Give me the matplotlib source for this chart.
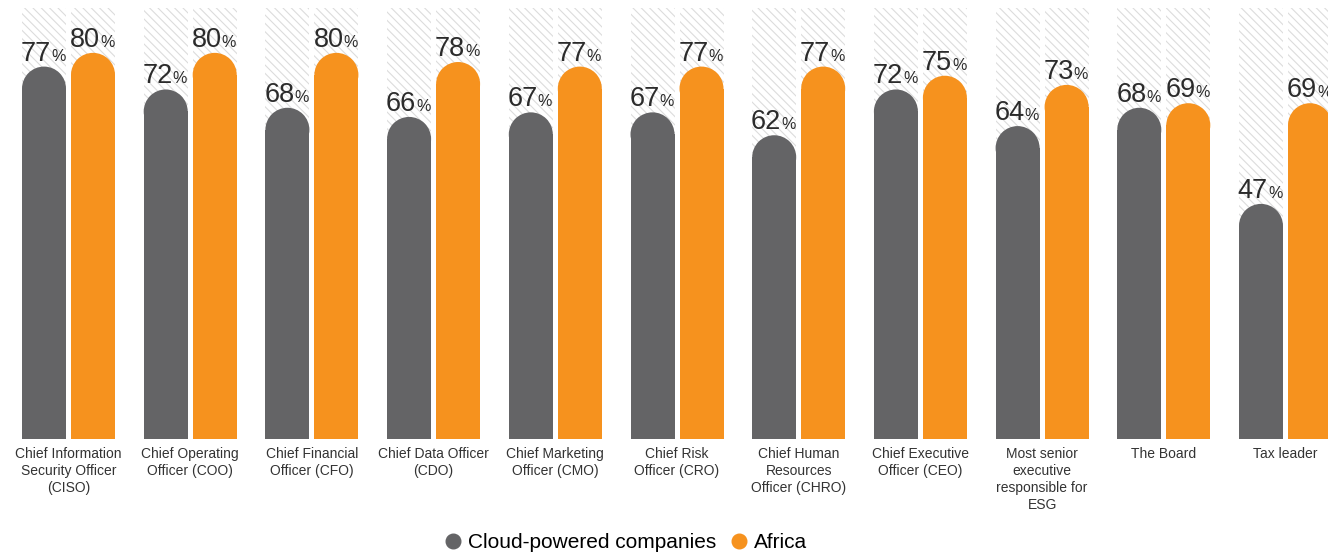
import matplotlib
matplotlib.use("Agg")
import matplotlib.pyplot as plt
from matplotlib.patches import Rectangle, Ellipse
from matplotlib.lines import Line2D

plt.rcParams['font.family'] = ['Liberation Sans', 'DejaVu Sans']
plt.rcParams['hatch.linewidth'] = 0.8

categories = [
    "Chief Information\nSecurity Officer\n(CISO)",
    "Chief Operating\nOfficer (COO)",
    "Chief Financial\nOfficer (CFO)",
    "Chief Data Officer\n(CDO)",
    "Chief Marketing\nOfficer (CMO)",
    "Chief Risk\nOfficer (CRO)",
    "Chief Human\nResources\nOfficer (CHRO)",
    "Chief Executive\nOfficer (CEO)",
    "Most senior\nexecutive\nresponsible for\nESG",
    "The Board",
    "Tax leader",
]
cloud = [77, 72, 68, 66, 67, 67, 62, 72, 64, 68, 47]
africa = [80, 80, 80, 78, 77, 77, 77, 75, 73, 69, 69]
series_names = ["Cloud-powered companies", "Africa"]
colors = ["#646466", "#f6921e"]

W, H = 1328, 553
fig = plt.figure(figsize=(W / 100, H / 100), dpi=100)
ax = fig.add_axes([0, (H - 439) / H, 1, 431 / H])

BASE = -4.37
TOP = 89.8
spacing = 121.7
ax.set_xlim(-68.5 / spacing, (W - 68.5) / spacing)
ax.set_ylim(BASE, TOP)
for s in ax.spines.values():
    s.set_visible(False)
ax.set_yticks([])

bw = 44 / spacing
off = 24.5 / spacing

px_x = W / (ax.get_xlim()[1] - ax.get_xlim()[0])
px_y = 431 / (TOP - BASE)
ry = (bw / 2) * px_x / px_y

for i in range(len(categories)):
    for j, vals in enumerate([cloud, africa]):
        xc = i + (-off if j == 0 else off)
        ax.add_patch(Rectangle((xc - bw / 2, BASE), bw, TOP - BASE,
                               facecolor="white", edgecolor="#dcdcdc",
                               hatch="\\" * 4, linewidth=0, zorder=1))
        v = vals[i]
        ax.add_patch(Rectangle((xc - bw / 2, BASE), bw, v - ry - BASE,
                               facecolor=colors[j], edgecolor="none", zorder=2))
        ax.add_patch(Ellipse((xc, v - ry), bw, 2 * ry,
                             facecolor=colors[j], edgecolor="none", zorder=2))
        ax.annotate(f"{v}", (xc, v), xytext=(7, 6), textcoords="offset pixels",
                    ha="right", va="baseline", fontsize=19.5, color="#2b2b2b",
                    zorder=3)
        ax.annotate("%", (xc, v), xytext=(7, 6), textcoords="offset pixels",
                    ha="left", va="baseline", fontsize=11.5, color="#2b2b2b",
                    zorder=3)

ax.set_xticks(range(len(categories)))
ax.set_xticklabels(categories, fontsize=10, color="#333333", linespacing=1.25)
ax.tick_params(axis="x", length=0, pad=6)

handles = [Line2D([], [], marker="o", linestyle="none", markersize=10.5,
                  markerfacecolor=c, markeredgecolor=c) for c in colors]
fig.legend(handles, series_names, loc="center", ncol=2, frameon=False,
           bbox_to_anchor=(625 / W, 1 - 543 / H), fontsize=15,
           handletextpad=0.2, columnspacing=0.6, handlelength=1.0)

fig.savefig("out.png", dpi=100)
